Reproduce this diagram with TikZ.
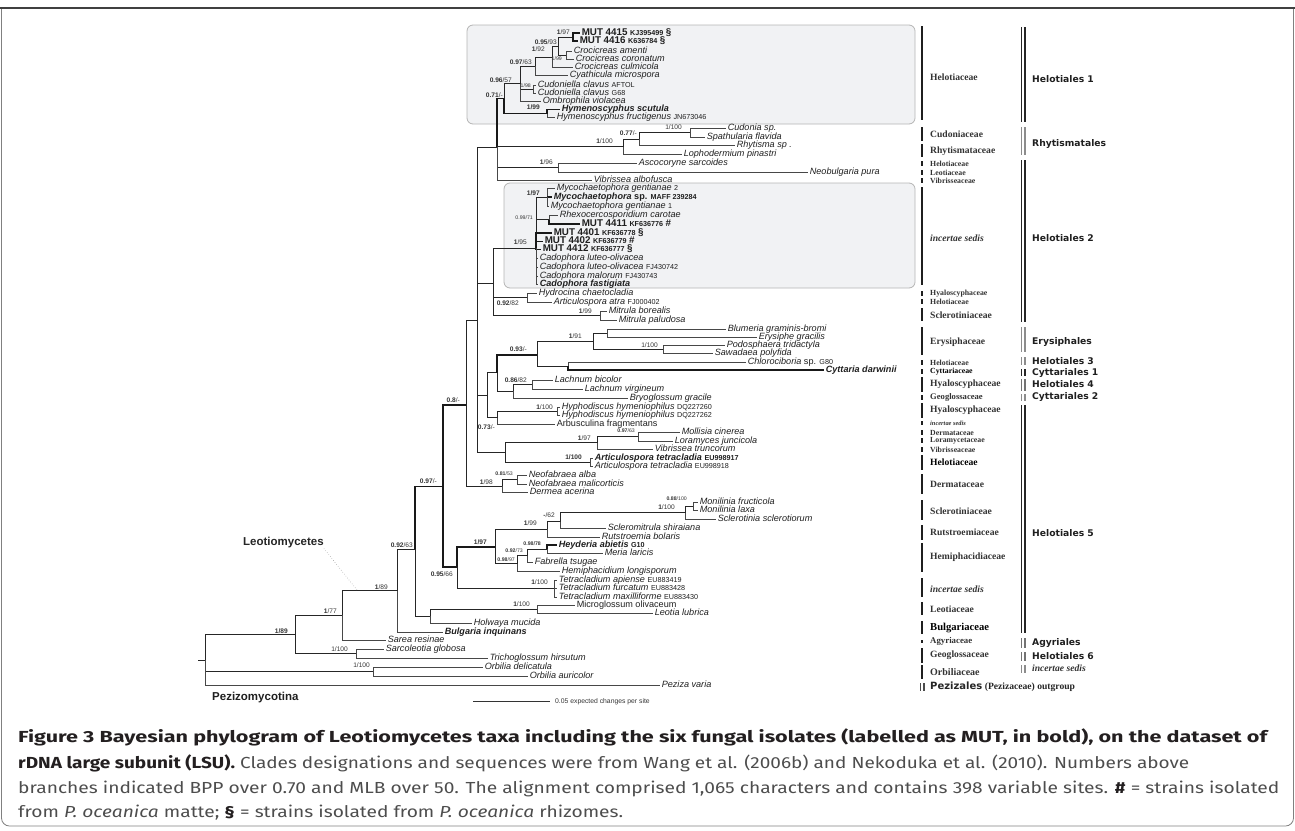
\documentclass[tikz,border=0pt]{standalone}
\usepackage{fontspec}
\usepackage{graphicx}
\setmainfont{Liberation Serif}
\newfontfamily\tx{Liberation Sans}
\newfontfamily\ordf{DejaVu Sans}
\newfontfamily\capf{Fira Sans}
\definecolor{boxfill}{HTML}{F1F2F4}
\definecolor{boxline}{HTML}{B4B4B4}
\definecolor{ink}{HTML}{231F20}
\definecolor{capgray}{HTML}{4D4D4D}
\newcommand\taxf{\tx\itshape\fontsize{9.1}{9.5}\selectfont}
\newcommand\supf{\tx\fontsize{6.6}{7}\selectfont}
\newcommand\tinyf{\tx\fontsize{5.2}{6}\selectfont}
\newcommand\accn[1]{{\tx\upshape\fontsize{7.2}{8}\selectfont #1}}
\newcommand\mt[1]{{\tx\upshape\bfseries\fontsize{9.8}{10}\selectfont #1}}
\newcommand\famf{\rmfamily\bfseries\fontsize{9.6}{10}\selectfont}
\newcommand\famsf{\rmfamily\bfseries\fontsize{7.8}{8}\selectfont}
\newcommand\ordfont{\ordf\bfseries\fontsize{9.2}{10}\selectfont}
\tikzset{
 br/.style={draw=black!85, line width=0.85pt},
 thk/.style={draw=black!90, line width=1.5pt},
 tb/.style={draw=black!72, line width=0.85pt},
 tbk/.style={draw=black!90, line width=1.5pt},
 lf/.style={anchor=west, inner xsep=1.6pt, inner ysep=0pt, font=\taxf, text=black!88, text height=6.4pt, text depth=1.6pt},
 supl/.style={anchor=east, inner sep=0pt, font=\supf, text=black!80},
 supt/.style={anchor=east, inner sep=0pt, font=\tinyf, text=black!80},
 fam/.style={anchor=west, inner sep=0pt, font=\famf, text=black!80},
 fams/.style={anchor=west, inner sep=0pt, font=\famsf, text=black!80},
 ord/.style={anchor=west, inner sep=0pt, font=\ordfont, text=black!88},
 fbar/.style={draw=black!88, line width=2.6pt},
 boxs/.style={draw=boxline, fill=boxfill, line width=0.8pt, rounded corners=6pt},
 capl/.style={anchor=base west, inner sep=0pt},
}
\newcommand\inn[5][br]{\coordinate (#3) at (#4,#5); \draw[#1] (#2) |- (#3);}
\newcommand\leaf[6][tb]{\coordinate (#3) at (#4,#5); \draw[#1] (#2) |- (#3); \node[lf] (#3l) at (#3) {#6};}
\newcommand\famrow[6]{\draw[fbar] (922,#1) -- (922,#2); \node[#3] (#4) at (930,#5) {#6};}
\newcommand\obar[3]{\draw[line width=1.1pt,#3] (1021.5,#1) -- (1021.5,#2) (1025,#1) -- (1025,#2);}
\begin{document}
\begin{tikzpicture}[x=1pt,y=-1pt]
\useasboundingbox (0,0) rectangle (1295,830);
% frame
\draw[black!50, line width=0.8pt, rounded corners=8pt] (1.5,8) -- (1.5,826) -- (1293.5,826) -- (1293.5,8);
\draw[black!75, line width=1.8pt] (0,8) -- (1295,8);
% clade boxes
\draw[boxs] (467,25) rectangle (915,124);
\draw[boxs] (504,183) rectangle (915,288);

% ---------- tree ----------
\coordinate (rs) at (198,660);
\coordinate (r) at (205,660);
\draw[br] (rs) -- (r);
\inn{r}{a1}{295}{634}
\inn{r}{o1}{373}{671.5}
\leaf{r}{pez}{660}{685}{Peziza varia}
\inn{a1}{a2}{342}{615}
\inn{a1}{b1}{356}{653.5}
\leaf{b1}{sarc}{384}{649}{Sarcoleotia globosa}
\leaf{b1}{tric}{488}{658}{Trichoglossum hirsutum}
\leaf{o1}{orbd}{483}{667}{Orbilia delicatula}
\leaf{o1}{orba}{528}{676}{Orbilia auricolor}
\inn{a2}{a3}{397}{590.5}
\leaf{a2}{sare}{386}{640}{Sarea resinae}
\inn{a3}{a4}{415}{549}
\leaf{a3}{bulg}{443}{632}{\bfseries Bulgaria inquinans}
\inn[thk]{a4}{a5}{443}{486.5}
\inn{a4}{l0}{430}{616}
\inn{l0}{l1}{537}{609}
\leaf{l0}{holw}{472}{623}{Holwaya mucida}
\leaf{l1}{micr}{575}{605}{\upshape Microglossum olivaceum}
\leaf{l1}{leot}{653}{613}{Leotia lubrica}
\inn[thk]{a5}{a6}{466}{405}
\inn[thk]{a5}{p0}{457}{567}
% Helotiales 5 part
\inn[thk]{p0}{p1}{495}{547}
\inn{p0}{p9}{554}{588.5}
\leaf{p9}{tetA}{557}{580}{Tetracladium apiense \accn{EU883419}}
\leaf{p9}{tetB}{557}{588}{Tetracladium furcatum \accn{EU883428}}
\leaf{p9}{tetC}{557}{597}{Tetracladium maxilliforme \accn{EU883430}}
\inn{p1}{p2}{547}{529}
\inn{p1}{p6}{517}{563.5}
\inn{p2}{p3}{560}{521.5}
\leaf{p2}{ruts}{600}{537}{Rutstroemia bolaris}
\inn{p3}{p4}{685}{512.5}
\leaf{p3}{sclm}{606}{528}{Scleromitrula shiraiana}
\inn{p4}{p5}{693}{506}
\leaf{p4}{sclt}{716}{519}{Sclerotinia sclerotiorum}
\leaf{p5}{monf}{698}{502}{Monilinia fructicola}
\leaf{p5}{monl}{698}{510}{Monilinia laxa}
\inn{p6}{p7}{527}{555.5}
\leaf{p6}{hemi}{560}{571}{Hemiphacidium longisporum}
\inn{p7}{p8}{547}{549}
\leaf{p7}{fabr}{533}{562}{Fabrella tsugae}
\leaf[tbk]{p8}{heyd}{557}{545}{\bfseries Heyderia abietis \accn{\bfseries G10}}
\leaf{p8}{meri}{603}{553}{Meria laricis}
% N466 children
\inn{a6}{a7}{477}{320}
\inn{a6}{d0}{502}{486}
\inn{d0}{d1}{517}{479.5}
\leaf{d0}{derm}{528}{492}{Dermea acerina}
\leaf{d1}{neoa}{527}{475}{Neofabraea alba}
\leaf{d1}{neom}{527}{484}{Neofabraea malicorticis}
% N477 polytomy
\inn{a7}{h0}{497}{147}
\inn{a7}{g0}{493}{283}
\inn{a7}{e0}{487}{395}
\inn{a7}{m0}{505}{452.5}
% Mollisia / Articulospora clade
\inn{m0}{m1}{597}{442.75}
\inn{m0}{m4}{590}{462}
\inn{m1}{m2}{638}{436.5}
\leaf{m1}{vibt}{653}{449}{Vibrissea truncorum}
\leaf{m2}{moll}{680}{432}{Mollisia cinerea}
\leaf{m2}{lora}{673}{441}{Loramyces juncicola}
\leaf{m4}{artA}{593}{458}{\bfseries Articulospora tetracladia \accn{\bfseries EU998917}}
\leaf{m4}{artB}{593}{466}{Articulospora tetracladia \accn{EU998918}}
% Erysiphales / Lachnum / Hyphodiscus
\inn{e0}{e1}{497}{372.5}
\inn{e0}{e7}{497}{417.5}
\inn[thk]{e1}{e2}{537}{355}
\inn{e1}{e5}{513}{391}
\inn{e2}{e3}{593}{341}
\inn{e2}{e4}{568}{366}
\inn{e3}{e3a}{607}{333}
\inn{e3}{e3b}{663}{349}
\leaf{e3a}{blum}{726}{329}{Blumeria graminis-bromi}
\leaf{e3a}{erys}{757}{337}{Erysiphe gracilis}
\leaf{e3b}{podo}{725}{345}{Podosphaera tridactyla}
\leaf{e3b}{sawa}{713}{353}{Sawadaea polyfida}
\leaf{e4}{chlo}{746}{362}{Chlorociboria \upshape sp. \accn{G80}}
\leaf[tbk]{e4}{cytt}{824}{370}{\bfseries Cyttaria darwinii}
\inn{e5}{e5a}{532}{384.5}
\leaf{e5}{bryo}{628}{398}{Bryoglossum gracile}
\leaf{e5a}{lacb}{553}{380}{Lachnum bicolor}
\leaf{e5a}{lacv}{583}{389}{Lachnum virgineum}
\inn{e7}{e7a}{557}{411}
\leaf{e7}{arbu}{555}{424}{\upshape Arbusculina fragmentans}
\leaf{e7a}{hypA}{560}{407}{Hyphodiscus hymeniophilus \accn{DQ227260}}
\leaf{e7a}{hypB}{560}{415}{Hyphodiscus hymeniophilus \accn{DQ227262}}
% Helotiales 2 part
\inn{g0}{g1}{536}{248}
\inn{g0}{g8}{527}{297.5}
\inn{g0}{g9}{600}{315.5}
\inn{g1}{g2}{547}{197}
\inn{g1}{g3}{549}{219.5}
\leaf{g2}{mycB}{555}{188}{Mycochaetophora gentianae \accn{2}}
\leaf[tbk]{g2}{mycS}{552}{197}{\bfseries Mycochaetophora \upshape sp. \accn{\bfseries MAFF 239284}}
\leaf{g2}{mycA}{549}{206}{Mycochaetophora gentianae \accn{1}}
\leaf{g3}{rhex}{558}{215}{Rhexocercosporidium carotae}
\leaf[tbk]{g3}{mutK}{580}{224}{\mt{MUT 4411} \accn{\bfseries KF636776} \mt{\#}}
\leaf[tbk]{g1}{mutA}{552}{233}{\mt{MUT 4401} \accn{\bfseries KF636778} \mt{§}}
\leaf[tbk]{g1}{mutB}{543}{241.5}{\mt{MUT 4402} \accn{\bfseries KF636779} \mt{\#}}
\leaf[tbk]{g1}{mutL}{541}{249.5}{\mt{MUT 4412} \accn{\bfseries KF636777} \mt{§}}
\leaf{g1}{cadA}{538}{258}{Cadophora luteo-olivacea}
\leaf{g1}{cadB}{538}{267}{Cadophora luteo-olivacea \accn{FJ430742}}
\leaf{g1}{cadC}{538}{276}{Cadophora malorum \accn{FJ430743}}
\leaf{g1}{cadD}{538}{284}{\bfseries Cadophora fastigiata}
\leaf{g8}{hydr}{537}{293}{Hydrocina chaetocladia}
\leaf{g8}{arta}{552}{302}{Articulospora atra \accn{FJ000402}}
\leaf{g9}{mitb}{607}{311}{Mitrula borealis}
\leaf{g9}{mitp}{617}{320}{Mitrula paludosa}
% Helotiales 1 + Rhytismatales
\inn[thk]{h0}{h1}{504}{98.5}
\inn{h0}{r1}{623}{146.5}
\inn{h0}{s1}{558}{167.5}
\leaf{h0}{viba}{592}{180}{Vibrissea albofusca}
\inn{h1}{h2}{520}{83.5}
\inn[thk]{h1}{h9}{547}{113.5}
\inn{h2}{h3}{535}{66}
\inn{h2}{h8}{533}{89}
\leaf{h2}{ombr}{541}{101}{Ombrophila violacea}
\inn{h3}{h4}{552}{57}
\leaf{h3}{cyat}{568}{75}{Cyathicula microspora}
\inn{h4}{h5}{558}{46.5}
\leaf{h4}{croC}{573}{67}{Crocicreas culmicola}
\inn{h5}{h6}{573}{37}
\inn{h5}{h7}{566}{55.5}
\leaf[tbk]{h6}{mutE}{580}{33}{\mt{MUT 4415} \accn{\bfseries KJ395499} \mt{§}}
\leaf[tbk]{h6}{mutF}{578}{41}{\mt{MUT 4416} \accn{\bfseries K636784} \mt{§}}
\leaf{h7}{croA}{572}{51.5}{Crocicreas amenti}
\leaf{h7}{croB}{574}{59.5}{Crocicreas coronatum}
\leaf{h8}{cudA}{536}{85}{Cudoniella clavus \accn{AFTOL}}
\leaf{h8}{cudB}{536}{93}{Cudoniella clavus \accn{G68}}
\leaf[tbk]{h9}{hymA}{560}{109.5}{\bfseries Hymenoscyphus scutula}
\leaf{h9}{hymB}{555}{117.5}{Hymenoscyphus fructigenus \accn{JN673046}}
\inn{r1}{r2}{639}{139}
\leaf{r1}{loph}{682}{154}{Lophodermium pinastri}
\inn{r2}{r3}{690}{132.5}
\leaf{r2}{rhyt}{735}{145}{Rhytisma sp .}
\leaf{r3}{cudo}{726}{128}{Cudonia sp.}
\leaf{r3}{spat}{705}{137}{Spathularia flavida}
\leaf{s1}{asco}{637}{163}{Ascocoryne sarcoides}
\leaf{s1}{neob}{808}{172}{Neobulgaria pura}

% ---------- support values ----------
\node[supl] (s01) at (570,32) {\textbf{1}/97};
\node[supl] (s02) at (557,42) {\textbf{0.95}/93};
\node[supt] (s03) at (562,58.5) {1/99};
\node[supl] (s04) at (545,49.5) {\textbf{1}/92};
\node[supl] (s05) at (532,62) {\textbf{0.97}/63};
\node[supt] (s06) at (531,86) {1/98};
\node[supl] (s07) at (512,80) {\textbf{0.96}/57};
\node[supl] (s08) at (503,95) {\textbf{0.71}/-};
\node[supl] (s09) at (540,107) {\textbf{1/99}};
\node[supl] (s10) at (682,127) {1/100};
\node[supl] (s11) at (637,133) {\textbf{0.77}/-};
\node[supl] (s12) at (613,141) {\textbf{1}/100};
\node[supl] (s13) at (553,162) {\textbf{1}/96};
\node[supl] (s14) at (540,193) {\textbf{1/97}};
\node[supt] (s15) at (533,218) {0.99/71};
\node[supl] (s16) at (527,242) {\textbf{1}/95};
\node[supl] (s17) at (519,303) {\textbf{0.92}/82};
\node[supl] (s18) at (592,311) {\textbf{1}/99};
\node[supl] (s19) at (582,336) {\textbf{1}/91};
\node[supl] (s20) at (658,345) {1/100};
\node[supl] (s21) at (527,349.5) {\textbf{0.93}/-};
\node[supl] (s22) at (527,380) {\textbf{0.86}/82};
\node[supl] (s23) at (460,400) {\textbf{0.8}/-};
\node[supl] (s24) at (553,407) {\textbf{1}/100};
\node[supl] (s25) at (495,427) {\textbf{0.73}/-};
\node[supt] (s26) at (635,431) {\textbf{0.97}/63};
\node[supl] (s27) at (591,438) {\textbf{1}/97};
\node[supl] (s28) at (582,457.5) {\textbf{1/100}};
\node[supt] (s29) at (513,474) {\textbf{0.81}/53};
\node[supl] (s30) at (493,482) {\textbf{1}/98};
\node[supl] (s31) at (437,481) {\textbf{0.97}/-};
\node[supt] (s32) at (687,499) {\textbf{0.88}/100};
\node[supl] (s33) at (675,507) {\textbf{1}/100};
\node[supl] (s34) at (555,515) {\textbf{-}/62};
\node[supl] (s35) at (537,523) {\textbf{1}/99};
\node[supl] (s36) at (487,542) {\textbf{1/97}};
\node[supt] (s37) at (541,544) {\textbf{0.98/78}};
\node[supt] (s38) at (523,551) {\textbf{0.92}/73};
\node[supt] (s39) at (515,560) {\textbf{0.98}/97};
\node[supl] (s40) at (413,545) {\textbf{0.92}/63};
\node[supl] (s41) at (453,574) {\textbf{0.95}/66};
\node[supl] (s42) at (548,582) {\textbf{1}/100};
\node[supl] (s43) at (530,604) {\textbf{1}/100};
\node[supl] (s44) at (388,587) {\textbf{1}/89};
\node[supl] (s45) at (337,611) {\textbf{1}/77};
\node[supl] (s46) at (288,631) {\textbf{1/89}};
\node[supl] (s47) at (348,649) {1/100};
\node[supl] (s48) at (370,665) {1/100};

% ---------- group labels ----------
\node[anchor=west, inner sep=0pt, font=\tx\bfseries\fontsize{11.5}{12}\selectfont, text=black!85] (leo) at (243,543) {Leotiomycetes};
\coordinate (leoEnd) at (357,590);
\draw[black!45, dotted, line width=0.5pt] (leo.south east) -- (leoEnd);
\node[anchor=west, inner sep=0pt, font=\tx\bfseries\fontsize{11.5}{12}\selectfont, text=black!88] (pezi) at (212,698) {Pezizomycotina};
\coordinate (sbA) at (473,701);
\coordinate (sbB) at (550,701);
\draw[black!80, line width=0.8pt] (sbA) -- (sbB);
\node[anchor=west, inner sep=0pt, font=\tx\fontsize{6.8}{7}\selectfont, text=black!80] (sbl) at (555,701.5) {0.05 expected changes per site};

% ---------- families ----------
\famrow{26}{120}{fam}{f01}{77}{Helotiaceae}
\famrow{127}{141}{fam}{f02}{134}{Cudoniaceae}
\famrow{144}{157}{fam}{f03}{151}{Rhytismataceae}
\famrow{161}{166}{fams}{f04}{163.5}{Helotiaceae}
\famrow{170}{175}{fams}{f05}{172.5}{Leotiaceae}
\famrow{178}{183}{fams}{f06}{181}{Vibrisseaceae}
\famrow{187}{285}{fam}{f07}{238}{\itshape incertae sedis}
\famrow{291}{296}{fams}{f08}{294}{Hyaloscyphaceae}
\famrow{299}{304}{fams}{f09}{302}{Helotiaceae}
\famrow{308}{321}{fam}{f10}{315}{Sclerotiniaceae}
\famrow{327}{355}{fam}{f11}{342}{Erysiphaceae}
\famrow{360}{365}{fams}{f12}{363}{Helotiaceae}
\famrow{369}{374}{fams}{f13}{372}{\color{black}Cyttariaceae}
\famrow{377}{392}{fam}{f14}{384}{Hyaloscyphaceae}
\famrow{395}{400}{fams}{f15}{397}{\fontsize{8.6}{9}\selectfont Geoglossaceae}
\famrow{403}{418}{fam}{f16}{410}{Hyaloscyphaceae}
\famrow{421}{425}{fams}{f17}{423}{\itshape\fontsize{6.4}{7}\selectfont incertae sedis}
\famrow{430}{435}{fams}{f18}{433}{Dermataceae}
\famrow{438}{443}{fams}{f19}{441}{Loramycetaceae}
\famrow{447}{452}{fams}{f20}{450}{Vibrisseaceae}
\famrow{455}{470}{fam}{f21}{462}{\color{black}Helotiaceae}
\famrow{474}{494}{fam}{f22}{484}{Dermataceae}
\famrow{500}{520}{fam}{f23}{511}{Sclerotiniaceae}
\famrow{525}{540}{fam}{f24}{532}{Rutstroemiaceae}
\famrow{543}{572}{fam}{f25}{557}{Hemiphacidiaceae}
\famrow{578}{597}{fam}{f26}{589}{\itshape incertae sedis}
\famrow{602}{615}{fam}{f27}{609}{Leotiaceae}
\famrow{621}{634}{fam}{f28}{628}{\color{black}\fontsize{10.6}{11}\selectfont Bulgariaceae}
\famrow{640}{643}{fam}{f29}{641}{\fontsize{8.8}{9}\selectfont Agyriaceae}
\famrow{648}{663}{fam}{f30}{655}{Geoglossaceae}
\famrow{665}{679}{fam}{f31}{672}{\fontsize{10}{11}\selectfont Orbiliaceae}
\draw[line width=1.1pt, black!70] (920.5,683) -- (920.5,691) (924,683) -- (924,691);
\node[anchor=west, inner sep=0pt, text=black!85] (f32) at (930,687) {{\ordfont\fontsize{10}{11}\selectfont Pezizales} {\famf (Pezizaceae) outgroup}};

% ---------- orders ----------
\obar{27}{122}{black!85}
\node[ord] (o01) at (1032,79) {Helotiales 1};
\obar{127}{155}{black!45}
\node[ord] (o02) at (1032,144) {Rhytismatales};
\obar{160}{322}{black!85}
\node[ord] (o03) at (1032,238) {Helotiales 2};
\obar{327}{352}{black!45}
\node[ord] (o04) at (1032,342) {Erysiphales};
\obar{357}{365}{black!45}
\node[ord] (o05) at (1032,361) {Helotiales 3};
\obar{369}{376}{black!85}
\node[ord] (o06) at (1032,373) {Cyttariales 1};
\obar{379}{391}{black!55}
\node[ord] (o07) at (1032,384.5) {Helotiales 4};
\obar{394}{401}{black!45}
\node[ord] (o08) at (1032,397) {Cyttariales 2};
\obar{405}{633}{black!85}
\node[ord] (o09) at (1032,533) {Helotiales 5};
\obar{638}{648}{black!55}
\node[ord] (o10) at (1032,643) {Agyriales};
\obar{652}{661}{black!55}
\node[ord] (o11) at (1032,656) {Helotiales 6};
\obar{665}{673}{black!45}
\node[anchor=west, inner sep=0pt, font=\rmfamily\bfseries\itshape\fontsize{9.6}{10}\selectfont, text=black!80] (o12) at (1032,668.5) {incertae sedis};

% ---------- caption ----------
\node[capl] (cap1) at (18,742) {\resizebox{1249pt}{\height}{\capf\bfseries\fontsize{16}{17}\selectfont\color{ink}Figure 3 Bayesian phylogram of Leotiomycetes taxa including the six fungal isolates (labelled as MUT, in bold), on the dataset of}};
\node[capl] (cap2) at (18,768) {\resizebox{1171pt}{\height}{\capf\fontsize{16}{17}\selectfont{\bfseries\color{ink}rDNA large subunit (LSU).} {\color{capgray}Clades designations and sequences were from Wang et al. (2006b) and Nekoduka et al. (2010). Numbers above}}};
\node[capl] (cap3) at (18,793) {\resizebox{1261pt}{\height}{\capf\fontsize{16}{17}\selectfont\color{capgray}branches indicated BPP over 0.70 and MLB over 50. The alignment comprised 1,065 characters and contains 398 variable sites. {\bfseries\color{ink}\#} = strains isolated}};
\node[capl] (cap4) at (18,817) {\resizebox{605pt}{\height}{\capf\fontsize{16}{17}\selectfont\color{capgray}from \textit{P. oceanica} matte; {\bfseries\color{ink}§} = strains isolated from \textit{P. oceanica} rhizomes.}};
\end{tikzpicture}
\end{document}
